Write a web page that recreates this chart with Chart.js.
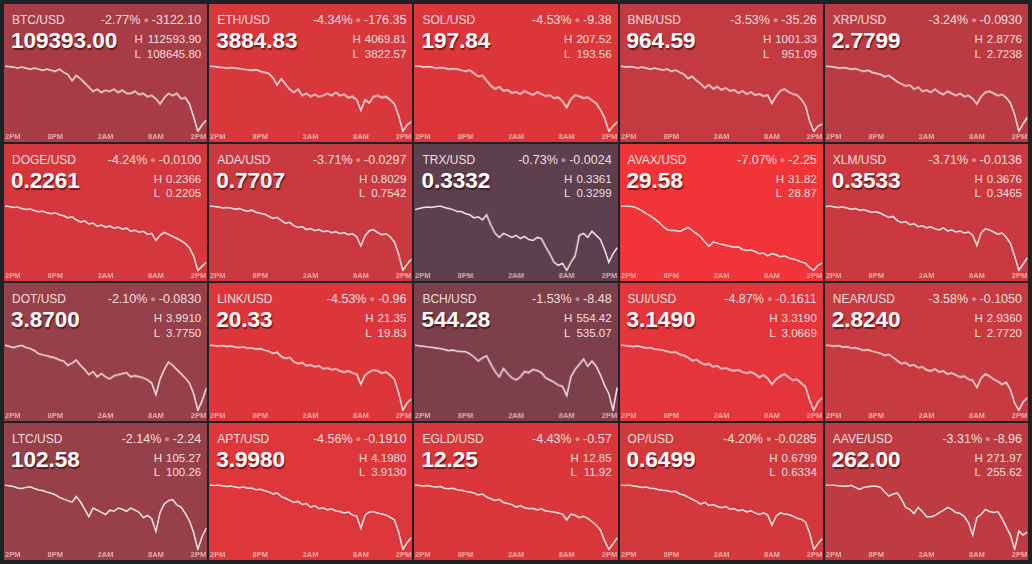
<!DOCTYPE html>
<html>
<head>
<meta charset="utf-8">
<script src="https://cdn.jsdelivr.net/npm/chart.js@4"></script>
<style>
html, body { margin: 0; padding: 0; background: #1e2227; }
body { width: 1032px; height: 564px; overflow: hidden; font-family: "Liberation Sans", Arial, sans-serif; }
#grid { position: absolute; left: 4px; top: 4px; width: 1024px; height: 556px; display: grid;
  grid-template-columns: repeat(5, 1fr); grid-template-rows: repeat(4, 1fr); gap: 2px; }
.tile { position: relative; overflow: hidden; }
.sym { position: absolute; left: 8px; top: 10px; font-size: 12px; line-height: 12px; color: rgba(255, 236, 236, 0.93); white-space: nowrap; }
.price { position: absolute; left: 7px; top: 26px; font-size: 22.5px; line-height: 22px; font-weight: bold; color: #fff;
  text-shadow: 1px 1.5px 1px rgba(40, 0, 0, 0.55); white-space: nowrap; }
.chg { position: absolute; right: 6px; top: 10px; font-size: 12.5px; line-height: 12px; color: rgba(255, 236, 236, 0.93); white-space: nowrap; }
.chg .dot { font-size: 9px; opacity: 0.5; padding: 0 3px; vertical-align: 1px; }
.hl { position: absolute; right: 6px; top: 28px; display: grid; grid-template-columns: auto auto; column-gap: 4px;
  font-size: 11.5px; line-height: 14.5px; color: rgba(255, 236, 236, 0.93); }
.hl span:nth-child(even) { text-align: right; }
.cw { position: absolute; left: 0; right: 0; top: 58px; bottom: 0; }
</style>
</head>
<body>
<div id="grid"></div>
<script>
const symbols = ['BTC/USD', 'ETH/USD', 'SOL/USD', 'BNB/USD', 'XRP/USD', 'DOGE/USD', 'ADA/USD', 'TRX/USD', 'AVAX/USD', 'XLM/USD',
  'DOT/USD', 'LINK/USD', 'BCH/USD', 'SUI/USD', 'NEAR/USD', 'LTC/USD', 'APT/USD', 'EGLD/USD', 'OP/USD', 'AAVE/USD'];
const lastPrices = ['109393.00', '3884.83', '197.84', '964.59', '2.7799', '0.2261', '0.7707', '0.3332', '29.58', '0.3533',
  '3.8700', '20.33', '544.28', '3.1490', '2.8240', '102.58', '3.9980', '12.25', '0.6499', '262.00'];
const changePct = ['-2.77%', '-4.34%', '-4.53%', '-3.53%', '-3.24%', '-4.24%', '-3.71%', '-0.73%', '-7.07%', '-3.71%',
  '-2.10%', '-4.53%', '-1.53%', '-4.87%', '-3.58%', '-2.14%', '-4.56%', '-4.43%', '-4.20%', '-3.31%'];
const changeAbs = ['-3122.10', '-176.35', '-9.38', '-35.26', '-0.0930', '-0.0100', '-0.0297', '-0.0024', '-2.25', '-0.0136',
  '-0.0830', '-0.96', '-8.48', '-0.1611', '-0.1050', '-2.24', '-0.1910', '-0.57', '-0.0285', '-8.96'];
const highs = ['112593.90', '4069.81', '207.52', '1001.33', '2.8776', '0.2366', '0.8029', '0.3361', '31.82', '0.3676',
  '3.9910', '21.35', '554.42', '3.3190', '2.9360', '105.27', '4.1980', '12.85', '0.6799', '271.97'];
const lows = ['108645.80', '3822.57', '193.56', '951.09', '2.7238', '0.2205', '0.7542', '0.3299', '28.87', '0.3465',
  '3.7750', '19.83', '535.07', '3.0669', '2.7720', '100.26', '3.9130', '11.92', '0.6334', '255.62'];

const timeSlots = ['14:00', '14:30', '15:00', '15:30', '16:00', '16:30', '17:00', '17:30', '18:00', '18:30', '19:00', '19:30',
  '20:00', '20:30', '21:00', '21:30', '22:00', '22:30', '23:00', '23:30', '00:00', '00:30', '01:00', '01:30',
  '02:00', '02:30', '03:00', '03:30', '04:00', '04:30', '05:00', '05:30', '06:00', '06:30', '07:00', '07:30',
  '08:00', '08:30', '09:00', '09:30', '10:00', '10:30', '11:00', '11:30', '12:00', '12:30', '13:00', '13:30', '14:00'];
const tickSlots = ['14:00', '20:00', '02:00', '08:00', '14:00'];
const tickLabels = ['2PM', '8PM', '2AM', '8AM', '2PM'];

const btcSeries = [112474, 112444, 112415, 112355, 112415, 112355, 112295, 112355, 112295, 112235, 112295, 112235, 112175, 112295, 112116, 111996, 111637, 111936, 111757, 111518, 111278, 111039, 111159, 110979, 111099, 111039, 111159, 110979, 111099, 110920, 110920, 111039, 110860, 110920, 110740, 110800, 110621, 110322, 110680, 110920, 110800, 110920, 110621, 110680, 110322, 109604, 108767, 109126, 109393];
const ethSeries = [4062.32, 4060.45, 4058.57, 4056.70, 4054.83, 4056.70, 4054.83, 4052.95, 4051.08, 4049.21, 4047.33, 4049.21, 4043.59, 4039.84, 4036.10, 4021.11, 3994.89, 4017.37, 3998.64, 3979.91, 3968.67, 3979.91, 3957.43, 3964.92, 3953.68, 3961.18, 3953.68, 3957.43, 3964.92, 3957.43, 3968.67, 3957.43, 3961.18, 3949.94, 3953.68, 3942.45, 3904.99, 3942.45, 3931.21, 3953.68, 3957.43, 3949.94, 3953.68, 3942.45, 3927.46, 3886.26, 3830.07, 3852.54, 3863.78];
const solSeries = [207.10, 207.10, 206.89, 207.00, 206.89, 206.67, 206.78, 206.67, 206.46, 206.57, 206.46, 206.25, 206.04, 206.25, 205.62, 204.98, 205.19, 204.14, 203.08, 202.44, 202.87, 202.02, 202.23, 201.60, 201.81, 201.39, 202.02, 201.60, 201.17, 201.81, 201.39, 200.96, 201.17, 200.54, 200.75, 199.91, 198.64, 200.33, 201.17, 200.96, 200.54, 200.75, 200.12, 199.48, 198.21, 196.52, 193.77, 194.83, 195.68];
const bnbSeries = [999.81, 999.05, 999.43, 999.05, 998.29, 999.05, 998.29, 997.52, 998.29, 997.52, 996.76, 997.52, 996.00, 996.76, 995.24, 993.72, 990.67, 992.20, 989.15, 986.87, 983.82, 986.11, 983.06, 984.58, 982.30, 983.82, 981.54, 982.30, 980.02, 981.54, 979.26, 980.78, 978.49, 979.26, 977.73, 978.49, 972.40, 977.73, 981.54, 983.06, 980.78, 979.26, 978.49, 975.45, 970.88, 959.47, 951.85, 955.66, 957.18];
const xrpSeries = [2.8729, 2.8718, 2.8706, 2.8683, 2.8694, 2.8683, 2.8659, 2.8671, 2.8636, 2.8613, 2.8636, 2.8590, 2.8566, 2.8543, 2.8496, 2.8520, 2.8450, 2.8380, 2.8333, 2.8287, 2.8310, 2.8217, 2.8263, 2.8170, 2.8194, 2.8147, 2.8217, 2.8147, 2.8100, 2.8170, 2.8124, 2.8077, 2.8124, 2.8054, 2.8077, 2.8007, 2.7891, 2.8054, 2.8147, 2.8170, 2.8124, 2.8077, 2.8100, 2.8030, 2.7914, 2.7658, 2.7285, 2.7448, 2.7588];
const dogeSeries = [0.23623, 0.23611, 0.23587, 0.23599, 0.23562, 0.23538, 0.23550, 0.23514, 0.23489, 0.23501, 0.23465, 0.23440, 0.23465, 0.23416, 0.23392, 0.23343, 0.23367, 0.23294, 0.23245, 0.23270, 0.23196, 0.23221, 0.23148, 0.23172, 0.23123, 0.23148, 0.23099, 0.23123, 0.23074, 0.23099, 0.23026, 0.23050, 0.23001, 0.23026, 0.22952, 0.22977, 0.22806, 0.22928, 0.23001, 0.22952, 0.22904, 0.22855, 0.22806, 0.22733, 0.22635, 0.22440, 0.22098, 0.22196, 0.22294];
const adaSeries = [0.8022, 0.8018, 0.8014, 0.8007, 0.8011, 0.8007, 0.7999, 0.8003, 0.7992, 0.7985, 0.7992, 0.7977, 0.7970, 0.7963, 0.7948, 0.7933, 0.7940, 0.7918, 0.7896, 0.7904, 0.7881, 0.7867, 0.7874, 0.7852, 0.7859, 0.7844, 0.7852, 0.7837, 0.7844, 0.7830, 0.7837, 0.7822, 0.7830, 0.7815, 0.7822, 0.7800, 0.7734, 0.7808, 0.7844, 0.7852, 0.7830, 0.7815, 0.7822, 0.7800, 0.7763, 0.7675, 0.7557, 0.7601, 0.7638];
const trxSeries = [0.33558, 0.33568, 0.33577, 0.33582, 0.33577, 0.33587, 0.33591, 0.33577, 0.33568, 0.33558, 0.33540, 0.33540, 0.33521, 0.33511, 0.33483, 0.33493, 0.33464, 0.33511, 0.33418, 0.33342, 0.33305, 0.33342, 0.33324, 0.33305, 0.33324, 0.33295, 0.33314, 0.33286, 0.33277, 0.33305, 0.33295, 0.33220, 0.33155, 0.33079, 0.33051, 0.33070, 0.33004, 0.33079, 0.33136, 0.33324, 0.33342, 0.33305, 0.33361, 0.33324, 0.33286, 0.33192, 0.33079, 0.33155, 0.33211];
const avaxSeries = [31.722, 31.708, 31.708, 31.686, 31.619, 31.529, 31.395, 31.306, 31.172, 31.038, 30.859, 30.725, 30.680, 30.680, 30.635, 30.725, 30.814, 30.680, 30.546, 30.412, 30.188, 30.010, 30.188, 30.144, 30.099, 30.050, 30.010, 29.965, 29.990, 29.876, 29.831, 29.851, 29.786, 29.697, 29.720, 29.607, 29.697, 29.652, 29.563, 29.607, 29.518, 29.473, 29.429, 29.339, 29.294, 29.116, 28.981, 29.205, 29.294];
const xlmSeries = [0.36680, 0.36696, 0.36664, 0.36648, 0.36664, 0.36632, 0.36600, 0.36616, 0.36568, 0.36584, 0.36536, 0.36504, 0.36520, 0.36472, 0.36408, 0.36344, 0.36376, 0.36248, 0.36184, 0.36216, 0.36120, 0.36152, 0.36056, 0.36088, 0.36024, 0.36056, 0.35992, 0.35960, 0.36024, 0.35928, 0.35960, 0.35896, 0.35928, 0.35864, 0.35896, 0.35800, 0.35480, 0.35864, 0.35992, 0.35960, 0.35896, 0.35832, 0.35864, 0.35736, 0.35544, 0.35160, 0.34712, 0.34904, 0.35096];
const dotSeries = [3.9854, 3.9812, 3.9779, 3.9812, 3.9845, 3.9779, 3.9747, 3.9681, 3.9583, 3.9550, 3.9518, 3.9485, 3.9452, 3.9387, 3.9354, 3.9223, 3.9289, 3.9387, 3.9223, 3.9093, 3.8929, 3.9027, 3.8864, 3.8962, 3.8864, 3.8798, 3.8896, 3.8929, 3.8962, 3.8994, 3.8864, 3.8896, 3.8864, 3.8831, 3.8766, 3.8667, 3.8308, 3.8798, 3.9093, 3.9321, 3.9223, 3.9093, 3.8962, 3.8831, 3.8667, 3.8340, 3.7817, 3.8112, 3.8504];
const linkSeries = [21.304, 21.293, 21.281, 21.293, 21.270, 21.281, 21.258, 21.247, 21.258, 21.235, 21.235, 21.212, 21.224, 21.189, 21.166, 21.120, 21.143, 21.051, 21.005, 21.028, 20.936, 20.890, 20.913, 20.844, 20.867, 20.821, 20.844, 20.775, 20.798, 20.752, 20.775, 20.729, 20.706, 20.729, 20.683, 20.660, 20.430, 20.637, 20.706, 20.752, 20.729, 20.683, 20.706, 20.637, 20.545, 20.246, 19.855, 20.016, 20.108];
const bchSeries = [553.92, 553.69, 553.54, 553.39, 553.25, 553.10, 552.96, 552.66, 552.37, 552.52, 552.22, 552.08, 552.08, 551.49, 550.61, 549.44, 550.32, 550.90, 548.56, 546.51, 545.04, 547.39, 545.92, 544.75, 544.17, 545.04, 546.51, 546.22, 547.09, 546.80, 546.22, 544.75, 544.17, 543.58, 542.70, 542.41, 539.77, 545.04, 547.09, 548.56, 550.03, 547.97, 549.44, 547.97, 545.63, 542.70, 540.36, 535.67, 542.11];
const suiSeries = [3.3114, 3.3095, 3.3075, 3.3056, 3.3075, 3.3037, 3.2999, 3.3018, 3.2961, 3.2942, 3.2923, 3.2884, 3.2846, 3.2865, 3.2770, 3.2732, 3.2655, 3.2541, 3.2579, 3.2464, 3.2388, 3.2426, 3.2311, 3.2350, 3.2235, 3.2273, 3.2197, 3.2159, 3.2197, 3.2120, 3.2082, 3.2120, 3.2044, 3.1929, 3.2006, 3.1891, 3.1662, 3.1853, 3.1968, 3.2044, 3.1929, 3.1815, 3.1853, 3.1700, 3.1586, 3.1089, 3.0707, 3.1013, 3.1165];
const nearSeries = [2.9310, 2.9298, 2.9286, 2.9298, 2.9261, 2.9273, 2.9236, 2.9248, 2.9211, 2.9186, 2.9199, 2.9162, 2.9137, 2.9112, 2.9062, 2.9087, 2.9013, 2.8938, 2.8864, 2.8889, 2.8814, 2.8839, 2.8765, 2.8790, 2.8715, 2.8690, 2.8740, 2.8666, 2.8690, 2.8616, 2.8641, 2.8591, 2.8542, 2.8566, 2.8492, 2.8467, 2.8294, 2.8517, 2.8616, 2.8566, 2.8492, 2.8442, 2.8368, 2.8418, 2.8244, 2.7922, 2.7748, 2.7946, 2.8046];
const ltcSeries = [105.10, 105.04, 105.00, 104.89, 104.85, 104.93, 104.97, 104.85, 104.74, 104.70, 104.59, 104.51, 104.40, 104.21, 104.09, 103.98, 103.87, 104.28, 103.90, 103.37, 102.84, 103.45, 103.30, 103.14, 102.99, 103.30, 103.22, 103.45, 103.37, 103.22, 103.45, 103.30, 103.14, 102.77, 102.92, 102.69, 101.78, 103.14, 103.75, 103.98, 104.06, 103.68, 103.52, 103.07, 102.54, 101.70, 100.49, 101.40, 102.01];
const aptSeries = [4.1872, 4.1850, 4.1872, 4.1829, 4.1807, 4.1829, 4.1786, 4.1764, 4.1786, 4.1742, 4.1742, 4.1678, 4.1699, 4.1634, 4.1591, 4.1505, 4.1548, 4.1397, 4.1332, 4.1246, 4.1159, 4.1202, 4.1073, 4.1116, 4.0965, 4.1030, 4.0900, 4.0943, 4.0857, 4.0900, 4.0814, 4.0792, 4.0727, 4.0770, 4.0641, 4.0598, 4.0101, 4.0641, 4.0770, 4.0792, 4.0727, 4.0684, 4.0641, 4.0554, 4.0446, 3.9950, 3.9237, 3.9518, 3.9712];
const egldSeries = [12.815, 12.808, 12.801, 12.808, 12.794, 12.787, 12.794, 12.772, 12.765, 12.772, 12.751, 12.744, 12.730, 12.723, 12.709, 12.681, 12.695, 12.653, 12.631, 12.610, 12.624, 12.582, 12.568, 12.554, 12.519, 12.540, 12.512, 12.498, 12.505, 12.483, 12.498, 12.469, 12.462, 12.455, 12.441, 12.427, 12.349, 12.427, 12.413, 12.378, 12.399, 12.371, 12.328, 12.279, 12.216, 12.075, 11.955, 12.032, 12.110];
const opSeries = [0.6781, 0.6778, 0.6781, 0.6774, 0.6771, 0.6764, 0.6767, 0.6760, 0.6757, 0.6750, 0.6746, 0.6743, 0.6736, 0.6739, 0.6721, 0.6714, 0.6700, 0.6686, 0.6672, 0.6654, 0.6665, 0.6644, 0.6651, 0.6637, 0.6630, 0.6637, 0.6619, 0.6623, 0.6609, 0.6616, 0.6602, 0.6609, 0.6595, 0.6584, 0.6595, 0.6580, 0.6513, 0.6573, 0.6595, 0.6588, 0.6584, 0.6573, 0.6559, 0.6552, 0.6535, 0.6461, 0.6351, 0.6390, 0.6422];
const aaveSeries = [271.67, 271.60, 271.60, 271.47, 271.35, 271.35, 271.60, 271.10, 270.61, 271.10, 271.23, 271.35, 271.35, 271.10, 269.99, 269.00, 269.49, 269.74, 268.25, 266.27, 265.78, 264.79, 266.27, 265.28, 264.04, 264.04, 264.29, 265.03, 265.53, 266.27, 265.78, 265.03, 264.79, 264.04, 262.56, 259.59, 263.80, 264.54, 265.78, 265.28, 265.03, 265.28, 263.55, 261.57, 259.59, 256.12, 260.58, 259.59, 260.33];

const seriesList = [btcSeries, ethSeries, solSeries, bnbSeries, xrpSeries, dogeSeries, adaSeries, trxSeries, avaxSeries, xlmSeries,
  dotSeries, linkSeries, bchSeries, suiSeries, nearSeries, ltcSeries, aptSeries, egldSeries, opSeries, aaveSeries];

// tile background shades, darker for smaller moves
const tileColors = ['#a83c46', '#d8373c', '#dc363b', '#c43a41', '#bb3b43', '#d4373d', '#c9393f', '#5e3f4e', '#f03437', '#c9393f',
  '#964049', '#dc363b', '#7d3f4c', '#e4353a', '#c63a40', '#984049', '#dd363b', '#d9373c', '#d3383d', '#be3b42'];

Chart.defaults.font.family = '"Liberation Sans", Arial, sans-serif';

function tickText(value, index) {
    const k = tickSlots.indexOf(timeSlots[index]);
    return k >= 0 ? tickLabels[k] : '';
}

function buildTile(i) {
    const tile = document.createElement('div');
    tile.className = 'tile';
    tile.style.background = tileColors[i];
    tile.innerHTML =
        '<div class="sym">' + symbols[i] + '</div>' +
        '<div class="price">' + lastPrices[i] + '</div>' +
        '<div class="chg">' + changePct[i] + '<span class="dot">\u25CF</span>' + changeAbs[i] + '</div>' +
        '<div class="hl"><span>H</span><span>' + highs[i] + '</span><span>L</span><span>' + lows[i] + '</span></div>' +
        '<div class="cw"><canvas></canvas></div>';
    document.getElementById('grid').appendChild(tile);

    const ctx = tile.querySelector('canvas').getContext('2d');
    new Chart(ctx, {
        type: 'line',
        data: {
            labels: timeSlots,
            datasets: [{
                data: seriesList[i],
                borderColor: 'rgba(255, 238, 238, 0.95)',
                borderWidth: 1.5,
                pointRadius: 0,
                tension: 0,
                fill: false
            }]
        },
        options: {
            responsive: true,
            maintainAspectRatio: false,
            animation: false,
            layout: { padding: { top: 4, left: 0, right: 0, bottom: 0 } },
            plugins: { legend: { display: false }, tooltip: { enabled: false } },
            scales: {
                x: {
                    grid: { display: false, drawTicks: false, tickLength: 0 },
                    border: { display: false },
                    ticks: {
                        autoSkip: false,
                        maxRotation: 0,
                        minRotation: 0,
                        align: 'inner',
                        padding: 1,
                        color: 'rgba(255, 210, 210, 0.72)',
                        font: { size: 7.5, weight: 'bold' },
                        callback: tickText
                    }
                },
                y: { display: false, bounds: 'data', grace: 0 }
            }
        }
    });
}

for (let i = 0; i < symbols.length; i++) {
    buildTile(i);
}
</script>
</body>
</html>
